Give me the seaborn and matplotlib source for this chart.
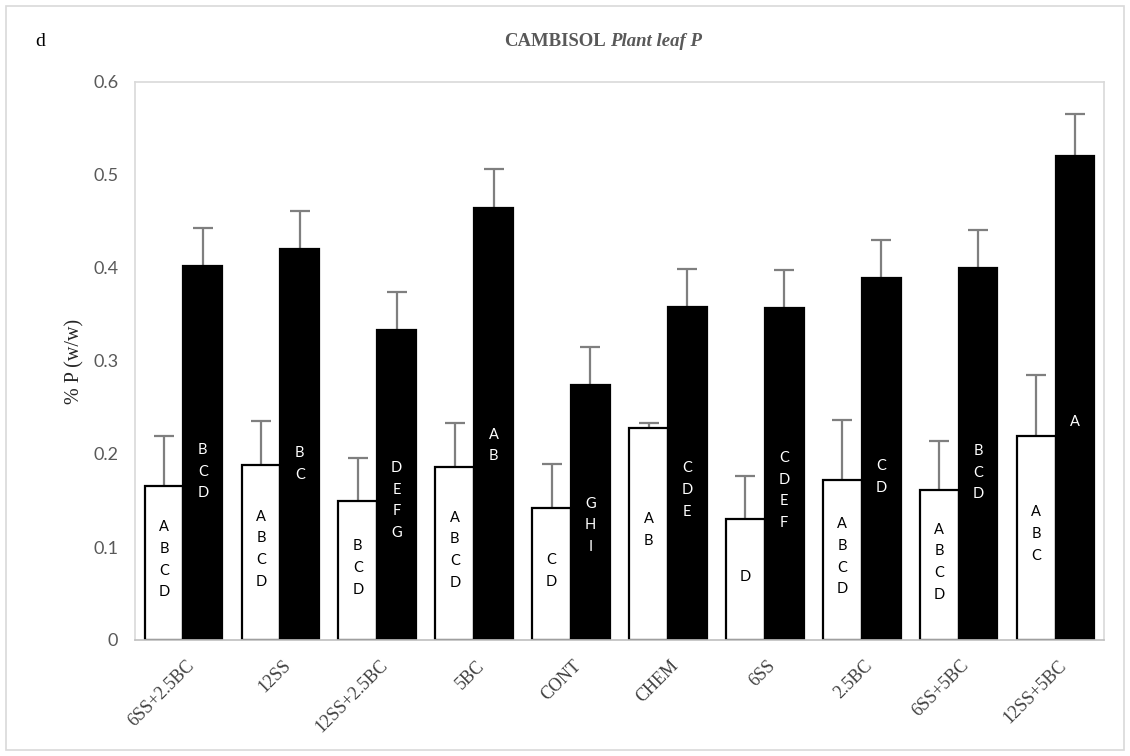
import numpy as np
import pandas as pd
import seaborn as sns
import matplotlib.pyplot as plt
from matplotlib.patches import Rectangle
from matplotlib.transforms import ScaledTranslation

# data
treatments = ["6SS+2.5BC", "12SS", "12SS+2.5BC", "5BC", "CONT",
              "CHEM", "6SS", "2.5BC", "6SS+5BC", "12SS+5BC"]
white_vals = [0.166, 0.188, 0.149, 0.186, 0.142, 0.228, 0.130, 0.172, 0.161, 0.219]
white_err = [0.053, 0.048, 0.047, 0.047, 0.047, 0.005, 0.046, 0.065, 0.053, 0.066]
black_vals = [0.402, 0.420, 0.333, 0.465, 0.274, 0.358, 0.357, 0.389, 0.400, 0.520]
black_err = [0.041, 0.041, 0.041, 0.041, 0.041, 0.041, 0.041, 0.041, 0.041, 0.046]
white_letters = ["ABCD", "ABCD", "BCD", "ABCD", "CD", "AB", "D", "ABCD", "ABCD", "ABC"]
black_letters = ["BCD", "BC", "DEFG", "AB", "GHI", "CDE", "CDEF", "CD", "BCD", "A"]

df = pd.DataFrame({
    "treatment": treatments * 2,
    "series": ["white"] * len(treatments) + ["black"] * len(treatments),
    "value": white_vals + black_vals,
})

sns.set_style("white")
fig = plt.figure(figsize=(11.3, 7.56), dpi=100)
ax = fig.add_axes([135 / 1130, 116 / 756, 969 / 1130, 558 / 756])

sns.barplot(data=df, x="treatment", y="value", hue="series",
            palette={"white": "white", "black": "black"}, order=treatments,
            hue_order=["white", "black"], width=0.8, gap=0, errorbar=None,
            edgecolor="black", linewidth=1.6, legend=False, ax=ax)

# upward-only error bars and letter labels
for cont, vals, errs, letters, tcol, frac in [
        (ax.containers[0], white_vals, white_err, white_letters, "black", 0.52),
        (ax.containers[1], black_vals, black_err, black_letters, "white", 0.45)]:
    xs = [b.get_x() + b.get_width() / 2 for b in cont]
    eb = ax.errorbar(xs, vals, yerr=[np.zeros(len(vals)), errs], fmt="none",
                     ecolor="#7f7f7f", elinewidth=1.6, capsize=7, capthick=1.6,
                     zorder=0.5)
    eb[1][0].set_visible(False)
    for x, v, s in zip(xs, vals, letters):
        ax.text(x, v * frac, "\n".join(s), ha="center", va="center", color=tcol,
                fontsize=10.5, family="Lato", linespacing=1.7, zorder=5)

ax.set_xlim(-0.5, 9.5)
ax.set_ylim(0, 0.6)
ax.set_yticks([0, 0.1, 0.2, 0.3, 0.4, 0.5, 0.6])
ax.set_yticklabels(["0", "0.1", "0.2", "0.3", "0.4", "0.5", "0.6"],
                   family="Lato", fontsize=13, color="#595959")
ax.tick_params(axis="y", length=0, pad=12)
ax.tick_params(axis="x", length=0, pad=8)
ax.set_xticks(range(len(treatments)))
ax.set_xticklabels(treatments, rotation=45, ha="right", va="center",
                   rotation_mode="anchor", family="Liberation Serif",
                   fontsize=13, color="#404040")
shift = ScaledTranslation(8 / 100, -12 / 100, fig.dpi_scale_trans)
for lab in ax.get_xticklabels():
    lab.set_transform(lab.get_transform() + shift)
ax.set_xlabel("")
ax.set_ylabel("% P (w/w)", family="Liberation Serif", fontsize=14.5, labelpad=6)
for sp in ax.spines.values():
    sp.set_color("#d9d9d9")
    sp.set_linewidth(1.2)
ax.spines["bottom"].set_color("#bfbfbf")

# titles
fig.text(606 / 1130, 1 - 42 / 756, "CAMBISOL", ha="right", va="center",
         family="Liberation Serif", fontweight="bold", fontsize=13.5, color="#595959")
fig.text(610 / 1130, 1 - 42 / 756, "Plant leaf P", ha="left", va="center",
         family="Liberation Serif", fontweight="bold", style="italic",
         fontsize=13.5, color="#595959")
fig.text(40 / 1130, 1 - 42 / 756, "d", ha="center", va="center",
         family="Liberation Serif", fontsize=14, color="black")

fig.patches.append(Rectangle((6 / 1130, 6 / 756), 1118 / 1130, 744 / 756,
                             transform=fig.transFigure, fill=False,
                             edgecolor="#d9d9d9", linewidth=1.2))

fig.savefig("out.png", dpi=100)
